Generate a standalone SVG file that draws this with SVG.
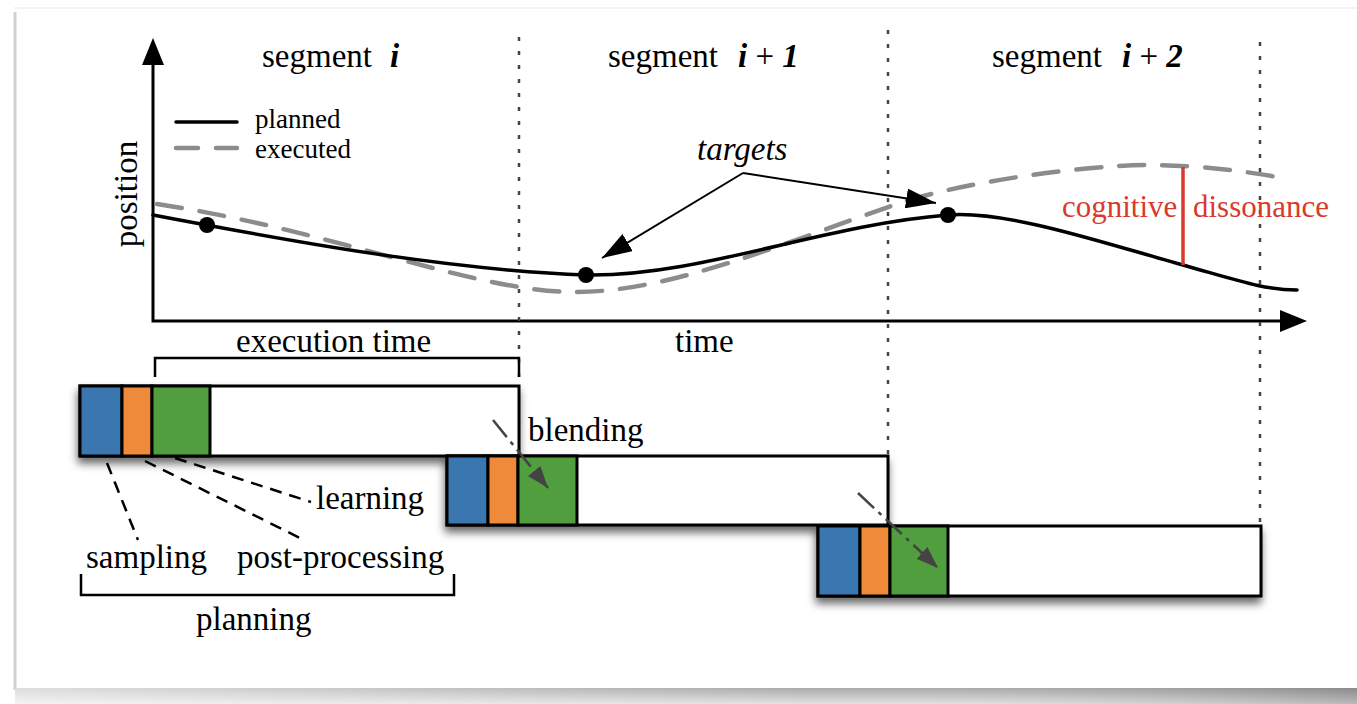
<svg xmlns="http://www.w3.org/2000/svg" width="1357" height="704" viewBox="0 0 1357 704">
  <style>
    text { font-family: "Liberation Serif", "Times New Roman", serif; fill: #000; }
    .lbl { font-size: 33px; }
    .leg { font-size: 27px; }
    .red { font-size: 31px; fill: #d93a2b; }
    .bi { font-weight: bold; font-style: italic; }
    .axis { stroke: #000; stroke-width: 3; fill: none; }
    .dotted { stroke: #444; stroke-width: 2.5; stroke-dasharray: 4 10; fill: none; }
    .planned { stroke: #000; stroke-width: 3.5; fill: none; stroke-linecap: round; }
    .executed { stroke: #8c8c8c; stroke-width: 4.5; fill: none; stroke-dasharray: 25 18; stroke-linecap: round; }
    .bracket { stroke: #000; stroke-width: 2.5; fill: none; }
    .leader { stroke: #000; stroke-width: 2.5; fill: none; stroke-dasharray: 12 8; }
    .pointer { stroke: #000; stroke-width: 2; fill: none; }
    .blend { stroke: #444; stroke-width: 2.5; fill: none; stroke-dasharray: 22 6 4 6; }
    .cell { stroke: #000; stroke-width: 3; }
    .frame { fill: #fff; stroke: #000; stroke-width: 3; }
    .sampling { fill: #3a76b0; }
    .post { fill: #ee8a3a; }
    .learn { fill: #519e3e; }
    .dot { fill: #000; }
  </style>
  <defs>
    <filter id="boxShadow" x="-10%" y="-30%" width="120%" height="180%">
      <feDropShadow dx="-1" dy="6" stdDeviation="4" flood-color="#000" flood-opacity="0.6"/>
    </filter>
    <marker id="tip" viewBox="0 0 30 20" refX="30" refY="10" markerWidth="30" markerHeight="20" markerUnits="userSpaceOnUse" orient="auto">
      <path d="M0,0 L30,10 L0,20 z" fill="#000"/>
    </marker>
    <marker id="blendTip" viewBox="0 0 22 16" refX="22" refY="8" markerWidth="22" markerHeight="16" markerUnits="userSpaceOnUse" orient="auto">
      <path d="M0,0 L22,8 L0,16 z" fill="#444"/>
    </marker>
    <linearGradient id="bottomShade" x1="0" y1="0" x2="0" y2="1">
      <stop offset="0" stop-color="#aaa"/>
      <stop offset="1" stop-color="#e2e2e2"/>
    </linearGradient>
    <linearGradient id="sideShade" x1="0" y1="0" x2="1" y2="0">
      <stop offset="0" stop-color="#fff" stop-opacity="0.6"/>
      <stop offset="0.6" stop-color="#fff" stop-opacity="0"/>
      <stop offset="1" stop-color="#000" stop-opacity="0.18"/>
    </linearGradient>
  </defs>

  <!-- page -->
  <rect x="0" y="0" width="1357" height="704" fill="#fff"/>
  <line x1="14" y1="8" x2="1357" y2="8" stroke="#f0f0f0" stroke-width="1.5"/>
  <line x1="15" y1="12" x2="15" y2="690" stroke="#d0d0d0" stroke-width="3"/>
  <rect x="15" y="688" width="1342" height="16" fill="url(#bottomShade)"/>
  <rect x="15" y="688" width="1342" height="16" fill="url(#sideShade)"/>

  <!-- axes -->
  <g id="axes">
    <path class="axis" d="M153,60 V321 H1285"/>
    <polygon points="153,38 164,65 142,65" fill="#000"/>
    <polygon points="1307,321 1280,310 1280,332" fill="#000"/>
    <text class="lbl" transform="translate(137,194) rotate(-90)" text-anchor="middle">position</text>
    <text class="lbl" x="675" y="352">time</text>
  </g>

  <!-- segment boundaries -->
  <g id="boundaries">
    <line class="dotted" x1="519" y1="37" x2="519" y2="386"/>
    <line class="dotted" x1="888" y1="30" x2="888" y2="456"/>
    <line class="dotted" x1="1260" y1="42" x2="1260" y2="526"/>
  </g>

  <!-- segment titles -->
  <g id="segment-i">
    <text class="lbl" x="262" y="67">segment<tspan class="bi" x="390">i</tspan></text>
  </g>
  <g id="segment-i1">
    <text class="lbl" x="608" y="67">segment<tspan class="bi" x="738">i</tspan> + <tspan class="bi">1</tspan></text>
  </g>
  <g id="segment-i2">
    <text class="lbl" x="992" y="67">segment<tspan class="bi" x="1122">i</tspan> + <tspan class="bi">2</tspan></text>
  </g>

  <!-- legend -->
  <g id="legend">
    <line class="planned" x1="176" y1="122" x2="237" y2="122"/>
    <line x1="176" y1="148" x2="237" y2="148" stroke="#8c8c8c" stroke-width="4.5" stroke-dasharray="22 18" stroke-linecap="round"/>
    <text class="leg" x="255" y="128">planned</text>
    <text class="leg" x="255" y="158">executed</text>
  </g>

  <!-- trajectories -->
  <g id="trajectories">
    <path class="executed" d="M157,204 C330,230 470,290 570,292 C670,294 790,240 900,203 C960,183 1080,165 1150,165 C1200,165 1250,172 1283,178"/>
    <path class="planned" d="M153,215 C300,243 450,270 586,275 C700,277 820,225 948,215 C1008,210 1110,245 1183,265 C1240,281 1265,290 1297,290"/>
    <line x1="1183" y1="167" x2="1183" y2="265" stroke="#d93a2b" stroke-width="3.5"/>
  </g>

  <g id="target-1"><circle class="dot" cx="207" cy="225" r="8"/></g>
  <g id="target-2"><circle class="dot" cx="586" cy="275" r="8"/></g>
  <g id="target-3"><circle class="dot" cx="948" cy="215" r="8"/></g>

  <g id="targets-label">
    <text class="lbl" x="697" y="160" font-style="italic">targets</text>
  </g>

  <g id="dissonance-label">
    <text class="red" y="217"><tspan x="1062">cognitive</tspan><tspan x="1193">dissonance</tspan></text>
  </g>

  <!-- execution time bracket -->
  <g id="execution-time">
    <path class="bracket" d="M155,377 V358 H519 V377"/>
    <text class="lbl" x="236" y="352">execution time</text>
  </g>

  <!-- planning timeline blocks -->
  <g id="block-1">
    <rect class="frame" x="80" y="386" width="439" height="70" filter="url(#boxShadow)"/>
    <rect class="cell sampling" x="80" y="386" width="42" height="70"/>
    <rect class="cell post" x="122" y="386" width="30" height="70"/>
    <rect class="cell learn" x="152" y="386" width="58" height="70"/>
  </g>
  <g id="block-2">
    <rect class="frame" x="447" y="456" width="441" height="69" filter="url(#boxShadow)"/>
    <rect class="cell sampling" x="447" y="456" width="41" height="69"/>
    <rect class="cell post" x="488" y="456" width="30" height="69"/>
    <rect class="cell learn" x="518" y="456" width="59" height="69"/>
  </g>
  <g id="block-3">
    <rect class="frame" x="818" y="526" width="443" height="70" filter="url(#boxShadow)"/>
    <rect class="cell sampling" x="818" y="526" width="42" height="70"/>
    <rect class="cell post" x="860" y="526" width="30" height="70"/>
    <rect class="cell learn" x="890" y="526" width="58" height="70"/>
  </g>

  <!-- labels for block parts -->
  <g id="labels">
    <text class="lbl" x="528" y="441">blending</text>
    <text class="lbl" x="316" y="509">learning</text>
    <text class="lbl" x="86" y="568">sampling</text>
    <text class="lbl" x="237" y="568">post-processing</text>
    <text class="lbl" x="196" y="630">planning</text>
  </g>

  <!-- connectors -->
  <g id="connectors">
    <path class="pointer" d="M743,173 L602,258" marker-end="url(#tip)"/>
    <path class="pointer" d="M743,173 L936,203" marker-end="url(#tip)"/>
    <path class="blend" d="M493,420 L548,488" marker-end="url(#blendTip)"/>
    <path class="blend" d="M858,493 L938,568" marker-end="url(#blendTip)"/>
    <path class="leader" d="M107,463 L138,540"/>
    <path class="leader" d="M145,461 L300,538"/>
    <path class="leader" d="M175,458 L311,502"/>
    <path class="bracket" d="M81,574 V595 H454 V574"/>
  </g>
</svg>
